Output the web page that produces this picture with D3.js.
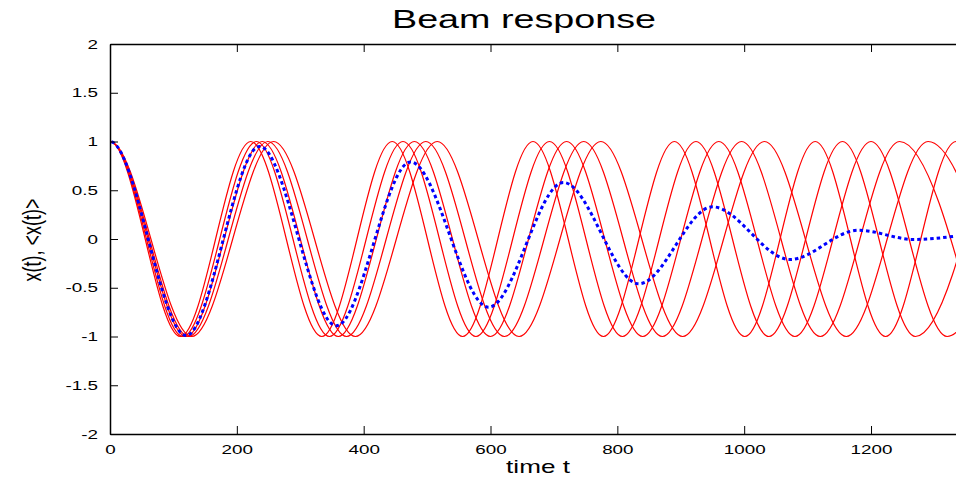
<!DOCTYPE html>
<html>
<head>
<meta charset="utf-8">
<script src="https://cdn.jsdelivr.net/npm/d3@7"></script>
<style>
  body { margin: 0; background: #fff; }
  text { font-family: "Liberation Sans", Arial, sans-serif; fill: #000; }
</style>
</head>
<body>
<svg id="chart"></svg>
<script>
// axis ticks
var xTicks = [0, 200, 400, 600, 800, 1000, 1200];
var yTicks = [-2, -1.5, -1, -0.5, 0, 0.5, 1, 1.5, 2];

// red traces: turning points (t, x), one array per particle
// (the point before t=0 only sets the flat start, it is clipped away)
var particle1 = [[-111,-1],[0,1],[111,-1],[222,1],[334,-1],[445,1],[556,-1],[667,1],[778,-1],[890,1],[1001,-1],[1112,1],[1223,-1],[1334,1],[1446,-1]];
var particle2 = [[-115,-1],[0,1],[115,-1],[231,1],[346,-1],[462,1],[577,-1],[693,1],[808,-1],[924,1],[1039,-1],[1155,1],[1270,-1],[1386,1]];
var particle3 = [[-120,-1],[0,1],[120,-1],[240,1],[360,-1],[480,1],[600,-1],[720,1],[840,-1],[960,1],[1080,-1],[1200,1],[1320,-1],[1440,1]];
var particle4 = [[-124,-1],[0,1],[124,-1],[249,1],[373,-1],[498,1],[622,-1],[747,1],[871,-1],[996,1],[1120,-1],[1245,1],[1369,-1]];
var particle5 = [[-129,-1],[0,1],[129,-1],[258,1],[387,-1],[516,1],[645,-1],[774,1],[903,-1],[1032,1],[1161,-1],[1290,1],[1419,-1]];

// blue dotted: beam average <x(t)>, turning points
var beamMean = [[-120,-0.99],[0,1],[120,-0.99],[236,0.95],[357,-0.89],[474,0.79],[597,-0.70],[715,0.58],[834,-0.46],[950,0.33],[1072,-0.21],[1180,0.09],[1268,-0.005],[1334,0.03]];

var width = 956, height = 477;
var plot = {left: 110, right: 956, top: 44, bottom: 434};
var stretch = 1.45;  // the original text is drawn wide

var chart = d3.select('#chart')
    .attr('width', width)
    .attr('height', height);

chart.append('rect')
    .attr('width', width)
    .attr('height', height)
    .attr('fill', 'white');

var xs = d3.scaleLinear().domain([0, 1334]).range([plot.left, plot.right]);
var ys = d3.scaleLinear().domain([-2, 2]).range([plot.bottom, plot.top]);

chart.append('clipPath').attr('id', 'clip')
    .append('rect')
    .attr('x', plot.left)
    .attr('y', plot.top)
    .attr('width', plot.right - plot.left)
    .attr('height', plot.bottom - plot.top);

var line = d3.line()
    .x(d => xs(d[0]))
    .y(d => ys(d[1]))
    .curve(d3.curveMonotoneX);

var lines = chart.append('g').attr('clip-path', 'url(#clip)');

lines.selectAll('path.particle')
    .data([particle1, particle2, particle3, particle4, particle5])
    .enter()
    .append('path')
        .attr('class', 'particle')
        .attr('d', line)
        .attr('fill', 'none')
        .attr('stroke', '#ff0000')
        .attr('stroke-width', 1.2);

lines.append('path')
    .attr('d', line(beamMean))
    .attr('fill', 'none')
    .attr('stroke', '#0000ff')
    .attr('stroke-width', 3)
    .attr('stroke-dasharray', '3.5,3');

// axes, gnuplot style: ticks pointing inwards
var xAxis = chart.append('g')
    .attr('transform', 'translate(0,' + plot.bottom + ')')
    .call(d3.axisBottom(xs).tickValues(xTicks).tickSizeInner(-8).tickSizeOuter(0).tickPadding(11).tickFormat(d => String(d)));
xAxis.attr('font-size', 13).attr('font-family', '"Liberation Sans", Arial, sans-serif');
xAxis.selectAll('text').attr('transform', 'scale(' + stretch + ',1)');

chart.append('g')
    .attr('transform', 'translate(0,' + plot.top + ')')
    .call(d3.axisTop(xs).tickValues(xTicks).tickSizeInner(-8).tickSizeOuter(0).tickFormat(''));

var yAxis = chart.append('g')
    .attr('transform', 'translate(' + plot.left + ',0)')
    .call(d3.axisLeft(ys).tickValues(yTicks).tickSizeInner(-8).tickSizeOuter(0).tickFormat(d => String(d)));
yAxis.attr('font-size', 13).attr('font-family', '"Liberation Sans", Arial, sans-serif');
yAxis.selectAll('text')
    .attr('x', 0)
    .attr('transform', 'translate(-12,0) scale(' + stretch + ',1)');

chart.selectAll('.domain').attr('stroke-width', 1.5);

chart.append('text')
    .attr('transform', 'translate(524,28) scale(' + stretch + ',1)')
    .style('text-anchor', 'middle')
    .style('font-size', '26px')
    .text('Beam response');

chart.append('text')
    .attr('transform', 'translate(538,473) scale(' + stretch + ',1)')
    .style('text-anchor', 'middle')
    .style('font-size', '18px')
    .text('time t');

chart.append('text')
    .attr('transform', 'translate(41,240) scale(' + stretch + ',1) rotate(-90)')
    .style('text-anchor', 'middle')
    .style('font-size', '18px')
    .text('x(t), <x(t)>');
</script>
</body>
</html>
